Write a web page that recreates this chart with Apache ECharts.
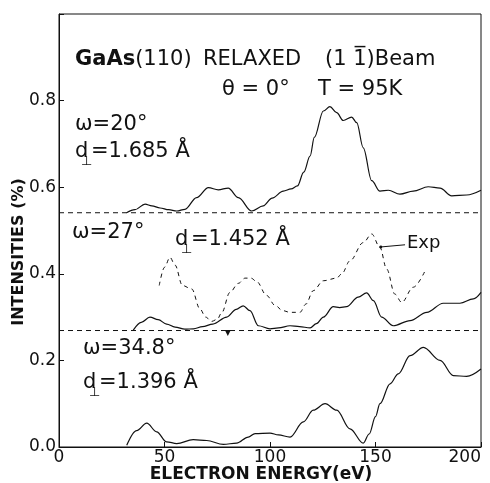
<!DOCTYPE html>
<html>
<head>
<meta charset="utf-8">
<title>GaAs(110) relaxed</title>
<script src="https://cdn.jsdelivr.net/npm/echarts@6/dist/echarts.min.js"></script>
<style>
  html, body { margin: 0; padding: 0; background: #fff; }
  #main { width: 490px; height: 483px; }
</style>
</head>
<body>
<div id="main"></div>
<script type="text/javascript">
// axis ticks
var xTicks = [0, 50, 100, 150, 200];
var yTicks = [0.0, 0.2, 0.4, 0.6, 0.8];

// omega = 20 deg (top curve)
var energy20 = [32, 36, 40.8, 44, 47.9, 52, 55.8, 59.7, 65.2, 70.8, 75.5, 80.2, 85, 91.3, 96.8, 101, 106.3, 110, 113, 116, 119, 121, 125.3, 128.4, 131.6, 134.7, 138.7, 141.1, 144.2, 148.2, 152.1, 156.1, 161.6, 167.9, 175, 180.6, 186.1, 193.2, 200];
var inten20  = [0.541, 0.548, 0.561, 0.557, 0.552, 0.548, 0.545, 0.549, 0.576, 0.599, 0.594, 0.598, 0.576, 0.545, 0.557, 0.575, 0.591, 0.596, 0.603, 0.635, 0.672, 0.715, 0.776, 0.786, 0.772, 0.754, 0.762, 0.749, 0.691, 0.615, 0.591, 0.593, 0.584, 0.591, 0.601, 0.598, 0.580, 0.582, 0.593];

// omega = 27 deg (middle curve, theory)
var energy27 = [35.2, 39, 43.1, 47, 51, 55, 59.7, 63.7, 68, 72.9, 79.5, 84, 87.3, 90.5, 94.5, 100, 104, 109.5, 114, 119, 122, 125.3, 130, 133, 136.3, 141.8, 145.8, 149, 152.9, 158.4, 166.4, 174.3, 182.1, 190, 196.4, 200];
var inten27  = [0.270, 0.288, 0.300, 0.294, 0.284, 0.277, 0.272, 0.273, 0.278, 0.284, 0.300, 0.318, 0.326, 0.315, 0.280, 0.273, 0.275, 0.280, 0.278, 0.275, 0.285, 0.300, 0.324, 0.322, 0.324, 0.346, 0.356, 0.338, 0.300, 0.280, 0.292, 0.311, 0.332, 0.332, 0.342, 0.357];

// experiment (dashed)
var energyExp = [47.5, 50, 52.6, 55, 58.5, 62.9, 66.8, 69.5, 72.3, 75, 77.1, 81, 85, 88.2, 91, 93.7, 98.4, 102.4, 106, 109.5, 114.2, 117, 120.5, 125.3, 131.6, 134, 137.9, 144.2, 148.2, 152.1, 155.3, 159.2, 162.4, 167.9, 173.5];
var intenExp  = [0.373, 0.415, 0.438, 0.420, 0.373, 0.365, 0.319, 0.300, 0.290, 0.295, 0.310, 0.357, 0.378, 0.390, 0.390, 0.382, 0.350, 0.327, 0.315, 0.311, 0.311, 0.330, 0.361, 0.384, 0.390, 0.400, 0.430, 0.472, 0.492, 0.461, 0.411, 0.353, 0.334, 0.369, 0.407];

// omega = 34.8 deg (bottom curve)
var energy35 = [32.1, 36.8, 41.6, 46.3, 51, 55.8, 63.6, 70, 77.9, 84.2, 89.7, 92.9, 100, 104, 109.5, 115.8, 120.5, 126.1, 131.6, 137.9, 144.2, 147, 150, 152.1, 156.9, 160.8, 166.4, 172.7, 180.6, 186.9, 193.2, 200];
var inten35  = [0.004, 0.038, 0.055, 0.035, 0.012, 0.008, 0.017, 0.015, 0.006, 0.009, 0.023, 0.031, 0.032, 0.028, 0.023, 0.058, 0.085, 0.100, 0.085, 0.042, 0.009, 0.030, 0.070, 0.100, 0.146, 0.169, 0.211, 0.230, 0.200, 0.165, 0.163, 0.180];

// zero lines of the shifted curves
var baseline20 = 0.541;
var baseline27 = 0.269;

function pairs(xs, ys) {
  return xs.map(function (x, i) { return [x, ys[i]]; });
}

var FONT = '"DejaVu Sans", "Liberation Sans", sans-serif';
var INK = '#111';

function txt(s, x, y, size, extra) {
  var st = { text: s, x: x, y: y, font: (size || 21) + 'px ' + FONT, fill: INK, verticalAlign: 'middle' };
  if (extra) { for (var k in extra) st[k] = extra[k]; }
  return { type: 'text', style: st, z: 10 };
}
// d with a perpendicular subscript
function dperp(x, y, rest) {
  return [
    txt('d', x, y, 21),
    txt('\u22A5', x + 6, y + 10, 13),
    txt(rest, x + 16, y, 21)
  ];
}

var chartDom = document.getElementById('main');
var myChart = echarts.init(chartDom);

var curve = {
  type: 'line',
  showSymbol: false,
  smooth: 0.35,
  smoothMonotone: 'x',
  lineStyle: { color: INK, width: 1.2 },
  silent: true
};

var graphics = [
  { type: 'text', style: { text: '{b|GaAs}(110)', x: 75, y: 60, verticalAlign: 'middle', font: '21px ' + FONT, fill: INK,
      rich: { b: { fontWeight: 'bold', fontSize: 21, fontFamily: 'DejaVu Sans' } } }, z: 10 },
  txt('RELAXED', 203, 60),
  txt('(1 1\u0305)Beam', 325, 60),
  txt('\u03B8 = 0\u00B0', 222, 90),
  txt('T = 95K', 318, 90),
  txt('\u03C9=20\u00B0', 75, 125),
  txt('\u03C9=27\u00B0', 72, 233),
  txt('\u03C9=34.8\u00B0', 83, 349),
  txt('Exp', 407, 243, 18),
  { type: 'text', style: { text: 'ELECTRON ENERGY(eV)', x: 261, y: 475, align: 'center', verticalAlign: 'middle',
      font: 'bold 17px ' + FONT, fill: INK } },
  { type: 'text', rotation: Math.PI / 2, x: 19, y: 252,
    style: { text: 'INTENSITIES (%)', x: 0, y: 0, align: 'center', verticalAlign: 'middle',
      font: 'bold 16px ' + FONT, fill: INK } }
].concat(dperp(75, 152, '=1.685 \u00C5'))
 .concat(dperp(175, 240, '=1.452 \u00C5'))
 .concat(dperp(83, 383, '=1.396 \u00C5'));

var option = {
  animation: false,
  backgroundColor: '#fff',
  grid: { left: 59, right: 9, top: 14, bottom: 36, show: true, borderColor: INK, borderWidth: 1,
    containLabel: false, outerBoundsMode: 'none' },
  xAxis: {
    type: 'value', min: xTicks[0], max: xTicks[xTicks.length - 1], interval: 50,
    axisLine: { lineStyle: { color: INK } },
    axisTick: { inside: true, length: 5, lineStyle: { color: INK } },
    axisLabel: { color: INK, fontSize: 17, fontFamily: 'DejaVu Sans', margin: 2, alignMaxLabel: 'right' },
    splitLine: { show: false }
  },
  yAxis: {
    type: 'value', min: 0, max: 1.0, interval: 0.2,
    axisLine: { show: true, lineStyle: { color: INK } },
    axisTick: { show: true, inside: true, length: 5, lineStyle: { color: INK } },
    axisLabel: { color: INK, fontSize: 17, fontFamily: 'DejaVu Sans', margin: 3,
      formatter: function (v) { return yTicks.indexOf(Math.round(v * 10) / 10) >= 0 && v < 0.95 ? v.toFixed(1) : ''; } },
    splitLine: { show: false }
  },
  series: [
    { type: 'line', showSymbol: false, silent: true, data: [[0, baseline20], [200, baseline20]],
      lineStyle: { color: INK, width: 1, type: [5, 4] } },
    { type: 'line', showSymbol: false, silent: true, data: [[0, baseline27], [200, baseline27]],
      lineStyle: { color: INK, width: 1, type: [5, 4] },
      markPoint: { symbol: 'triangle', symbolSize: 6, symbolRotate: 180, itemStyle: { color: INK },
        label: { show: false }, data: [{ coord: [80, baseline27 - 0.006] }] } },
    Object.assign({}, curve, { name: 'w20', data: pairs(energy20, inten20) }),
    Object.assign({}, curve, { name: 'w27', data: pairs(energy27, inten27) }),
    Object.assign({}, curve, { name: 'Exp', data: pairs(energyExp, intenExp),
      lineStyle: { color: INK, width: 1, type: [4, 4] },
      markLine: { silent: true, symbol: ['circle', 'none'], symbolSize: 3,
        lineStyle: { color: INK, width: 1, type: 'solid' }, label: { show: false },
        data: [[{ coord: [152.5, 0.462] }, { coord: [164, 0.467] }]] } }),
    Object.assign({}, curve, { name: 'w35', data: pairs(energy35, inten35) })
  ],
  graphic: graphics
};
myChart.setOption(option);
</script>
</body>
</html>
